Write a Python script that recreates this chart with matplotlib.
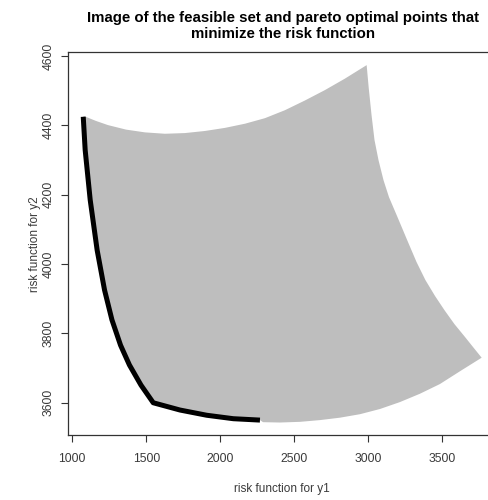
import matplotlib
matplotlib.use("Agg")
import matplotlib.pyplot as plt

plt.rcParams['font.family'] = ['Liberation Sans', 'DejaVu Sans']

# Boundary of the feasible set image (clockwise from top-left corner)
top_x = [1079, 1160, 1241, 1363, 1491, 1626, 1761, 1896, 2032, 2167,
         2302, 2437, 2572, 2707, 2842, 2989]
top_y = [4427, 4413, 4401, 4388, 4380, 4376, 4378, 4384, 4393, 4405,
         4421, 4444, 4472, 4502, 4535, 4574]
right_x = [3003, 3022, 3042, 3069, 3103, 3140, 3194, 3268, 3326, 3386,
           3451, 3515, 3582, 3653, 3713, 3766]
right_y = [4508, 4430, 4358, 4300, 4242, 4193, 4139, 4064, 4006, 3954,
           3908, 3867, 3827, 3790, 3758, 3730]
bottom_x = [3620, 3484, 3349, 3214, 3079, 2944, 2809, 2674, 2539, 2403, 2289]
bottom_y = [3691, 3654, 3626, 3602, 3582, 3567, 3557, 3550, 3545, 3543, 3544]

# Pareto optimal points (left edge then bottom edge)
pareto_x = [1074, 1087, 1121, 1168, 1218, 1268, 1326, 1386, 1464, 1547,
            1728, 1908, 2088, 2268]
pareto_y = [4425, 4329, 4185, 4040, 3925, 3839, 3766, 3709, 3651, 3600,
            3579, 3564, 3554, 3550]

xticks = [1000, 1500, 2000, 2500, 3000, 3500]
yticks = [3600, 3800, 4000, 4200, 4400, 4600]

title = "Image of the feasible set and pareto optimal points that\nminimize the risk function"
xlab = "risk function for y1"
ylab = "risk function for y2"

W, H = 489, 500
fig = plt.figure(figsize=(W / 100, H / 100), dpi=100)
L, R, T, B = 68.3, 499.7, 52.3, 435.0
ax = fig.add_axes([L / W, 1 - B / H, (R - L) / W, (B - T) / H])

poly_x = top_x + right_x + bottom_x + pareto_x[::-1]
poly_y = top_y + right_y + bottom_y + pareto_y[::-1]
ax.fill(poly_x, poly_y, color='#BEBEBE', lw=0)
ax.plot(pareto_x, pareto_y, color='black', lw=3.6, solid_capstyle='butt',
        solid_joinstyle='round')

ax.set_xlim(973, 3888)
ax.set_ylim(3507, 4611)
ax.set_xticks(xticks)
ax.set_yticks(yticks)
ax.tick_params(direction='out', length=5, width=0.8, colors='#333333',
               labelsize=8.7, labelcolor='#3a3a3a')
ax.tick_params(axis='x', pad=8)
ax.tick_params(axis='y', pad=5)
for lbl in ax.get_yticklabels():
    lbl.set_rotation(90)
    lbl.set_va('center')
for s in ax.spines.values():
    s.set_color('#333333')
    s.set_linewidth(0.9)

fig.text(283 / W, 1 - 26 / H, title, ha='center', va='center',
         fontsize=10.8, fontweight='bold', linespacing=1.2)
fig.text(282 / W, 1 - 489 / H, xlab, ha='center', va='center',
         fontsize=8.5, color='#3a3a3a')
fig.text(35 / W, 1 - 244 / H, ylab, ha='center', va='center',
         fontsize=8.5, color='#3a3a3a', rotation=90)

fig.savefig("out.png", dpi=100)
